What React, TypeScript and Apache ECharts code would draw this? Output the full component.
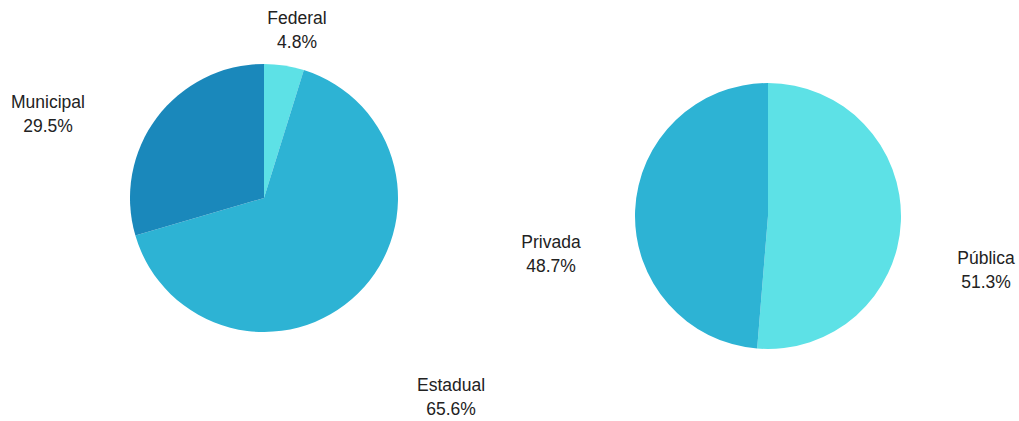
import React, { useEffect, useRef } from "react";
import * as echarts from "echarts";

const leftNames = ["Federal", "Estadual", "Municipal"];
const leftValues = [4.8, 65.6, 29.5];
const leftColors = ["#5de1e6", "#2db3d4", "#1a88bb"];

const rightNames = ["Pública", "Privada"];
const rightValues = [51.3, 48.7];
const rightColors = ["#5de1e6", "#2db3d4"];

// label anchor points (layout only)
const leftLabelPos = [
  [297, 30],
  [451, 397],
  [48, 114],
];
const rightLabelPos = [
  [986, 270],
  [551, 254],
];

export default function App() {
  const ref = useRef<HTMLDivElement>(null);
  useEffect(() => {
    if (!ref.current) return;
    const chart = echarts.init(ref.current, undefined, { renderer: "svg" });
    const labelStyle = {
      show: true,
      formatter: (p: any) => `${p.name}\n${p.value.toFixed(1)}%`,
      color: "#222",
      fontFamily: "Liberation Sans, Arial, sans-serif",
      fontSize: 17.5,
      lineHeight: 24,
      align: "center" as const,
    };
    const mk = (names: string[], values: number[], colors: string[]) =>
      names.map((n, i) => ({ name: n, value: values[i], itemStyle: { color: colors[i] } }));
    chart.setOption({
      animation: false,
      series: [
        {
          type: "pie",
          center: [264, 198],
          radius: 134,
          startAngle: 90,
          clockwise: true,
          data: mk(leftNames, leftValues, leftColors),
          label: labelStyle,
          labelLine: { show: false },
          itemStyle: { borderWidth: 0 },
          emphasis: { disabled: true },
          labelLayout: (p: any) => ({
            x: leftLabelPos[p.dataIndex][0],
            y: leftLabelPos[p.dataIndex][1],
            align: "center",
            verticalAlign: "middle",
          }),
        },
        {
          type: "pie",
          center: [768, 216],
          radius: 133,
          startAngle: 90,
          clockwise: true,
          data: mk(rightNames, rightValues, rightColors),
          label: labelStyle,
          labelLine: { show: false },
          itemStyle: { borderWidth: 0 },
          emphasis: { disabled: true },
          labelLayout: (p: any) => ({
            x: rightLabelPos[p.dataIndex][0],
            y: rightLabelPos[p.dataIndex][1],
            align: "center",
            verticalAlign: "middle",
          }),
        },
      ],
    });
    return () => chart.dispose();
  }, []);
  return (
    <div
      ref={ref}
      style={{ position: "fixed", left: 0, top: 0, width: 1019, height: 421, background: "#fff" }}
    />
  );
}
